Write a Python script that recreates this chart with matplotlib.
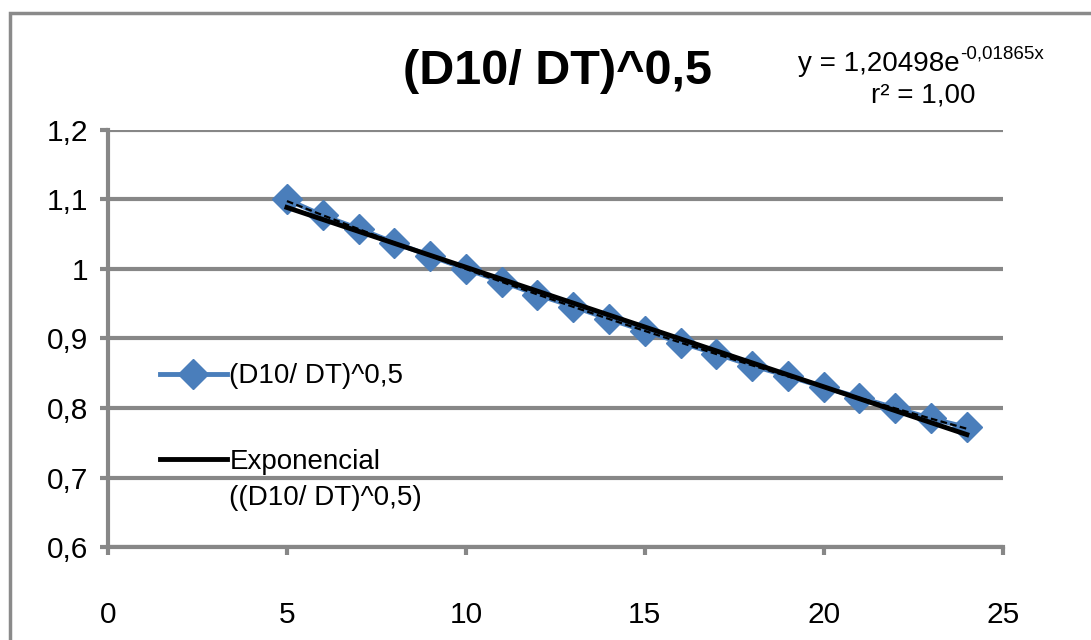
import numpy as np
import matplotlib
matplotlib.use("Agg")
import matplotlib.pyplot as plt
from matplotlib.patches import Rectangle

plt.rcParams['font.family'] = ['Liberation Sans', 'DejaVu Sans']

# data
x = [5, 6, 7, 8, 9, 10, 11, 12, 13, 14, 15, 16, 17, 18, 19, 20, 21, 22, 23, 24]
y = [1.100, 1.077, 1.058, 1.038, 1.019, 1.000, 0.982, 0.963, 0.946, 0.928,
     0.911, 0.894, 0.878, 0.861, 0.846, 0.830, 0.815, 0.800, 0.785, 0.772]

# trendline coefficients shown on the chart
coef_a = 1.20498
coef_b = -0.01865

x_ticks = [0, 5, 10, 15, 20, 25]
y_ticks = [0.6, 0.7, 0.8, 0.9, 1.0, 1.1, 1.2]
y_labels = ["0,6", "0,7", "0,8", "0,9", "1", "1,1", "1,2"]

title = "(D10/ DT)^0,5"
grid_col = "#878787"
blue = "#4A7EBB"

fig = plt.figure(figsize=(10.91, 6.4), dpi=100)
ax = fig.add_axes([0.099, 0.1453, 0.82, 0.6516])

xa = np.array(x, dtype=float)
ya = np.array(y)

ax.plot(x, y, color=blue, lw=3.5, marker="D", markersize=15, zorder=3,
        label="(D10/ DT)^0,5")

# linear fit line (solid) and exponential trend (dashed)
p = np.polyfit(xa, ya, 1)
ax.plot(xa, np.polyval(p, xa), color="black", lw=3.5, zorder=4,
        label="Exponencial")
ax.plot(xa, coef_a * np.exp(coef_b * xa), color="black", lw=1.6,
        ls=(0, (3, 1.5)), zorder=5)

ax.set_xlim(0, 25)
ax.set_ylim(0.6, 1.2)
ax.set_xticks(x_ticks)
ax.set_xticklabels([str(t) for t in x_ticks])
ax.set_yticks(y_ticks)
ax.set_yticklabels(y_labels)
ax.tick_params(axis="both", direction="out", length=6, width=3,
               color=grid_col, labelsize=21.5)
ax.tick_params(axis="x", pad=33)
ax.tick_params(axis="y", pad=8)

ax.grid(axis="y", color=grid_col, lw=3)
ax.set_axisbelow(True)
for s in ["top", "right"]:
    ax.spines[s].set_visible(False)
for s in ["left", "bottom"]:
    ax.spines[s].set_color(grid_col)
    ax.spines[s].set_linewidth(3)

leg = ax.legend(loc="upper left", bbox_to_anchor=(0.03, 0.50), frameon=False,
                fontsize=20, handlelength=2.4, handletextpad=0.1,
                labelspacing=2.15)

fig.text(0.511, 0.888, title, fontsize=35, fontweight="bold",
         ha="center", va="center")

eq = fig.text(0.880, 0.889, "y = 1,20498e", fontsize=20, ha="right",
              va="baseline")
ax.annotate("-0,01865x", xy=(1, 0.55), xycoords=eq, fontsize=13.5,
            ha="left", va="bottom", annotation_clip=False)
fig.text(0.846, 0.851, "r² = 1,00", fontsize=20, ha="center", va="center")

# second line of the trend legend label
fig.canvas.draw()
bb = leg.get_texts()[1].get_window_extent()
fig.text(bb.x0 / fig.bbox.width, (bb.y0 - 36) / fig.bbox.height,
         "((D10/ DT)^0,5)", fontsize=20, ha="left", va="bottom")

# outer chart border
fig.patches.append(Rectangle((0.0095, -0.1), 1.2, 1.08, transform=fig.transFigure,
                             fill=False, edgecolor="#8a8a8a", lw=2.5))

fig.savefig("out.png", dpi=100, facecolor="white")
